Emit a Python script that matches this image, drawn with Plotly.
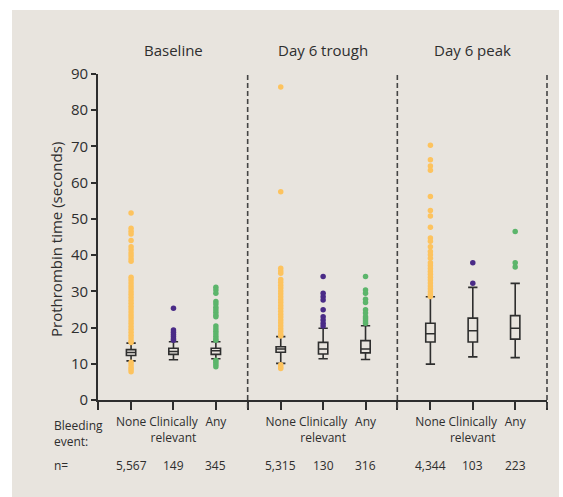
import plotly.graph_objects as go

# ---------------- data ----------------
groups = ["Baseline", "Day 6 trough", "Day 6 peak"]
categories = ["None", "Clinically<br>relevant", "Any"]
n_values = [["5,567", "149", "345"], ["5,315", "130", "316"], ["4,344", "103", "223"]]

# box statistics (seconds), per group -> per category
q1 = [[12.3, 12.6, 12.6], [13.2, 12.7, 13.0], [16.0, 16.0, 16.8]]
median = [[13.1, 13.4, 13.6], [14.1, 14.1, 14.1], [18.3, 19.1, 19.8]]
q3 = [[13.9, 14.3, 14.3], [14.7, 15.9, 16.4], [21.2, 22.6, 23.3]]
lowerfence = [[10.8, 11.1, 11.4], [10.1, 11.4, 11.2], [9.9, 11.9, 11.7]]
upperfence = [[15.7, 16.1, 16.1], [17.5, 19.8, 20.5], [28.5, 31.1, 32.2]]

# individual outlying observations
baseline_none_pts = [51.6, 47.4, 46.6, 45.8, 44.0, 42.3, 41.5, 40.6, 39.8, 39.0, 38.3,
                     33.9, 33.1, 32.3, 31.5, 30.7, 29.9, 29.1, 28.3, 27.5, 26.7, 25.9,
                     25.1, 24.3, 23.5, 22.7, 21.9, 21.1, 20.3, 19.5, 18.7, 17.9, 17.1,
                     16.3, 15.9, 10.4, 9.7, 9.0, 8.4, 7.8]
baseline_clin_pts = [25.3, 19.3, 18.7, 18.1, 17.5, 16.9, 16.5]
baseline_any_pts = [31.1, 30.4, 29.5, 27.2, 26.5, 25.6, 24.9, 24.2, 23.5, 23.0,
                    20.4, 19.7, 19.0, 18.3, 17.6, 16.9, 16.5, 11.0, 10.4, 9.8, 9.2]
trough_none_pts = [86.4, 57.5, 36.4, 35.6, 35.0, 33.3, 32.5, 31.7, 30.9, 30.1, 29.3,
                   28.5, 27.7, 26.9, 26.1, 25.3, 24.5, 23.7, 22.9, 22.1, 21.3, 20.5,
                   19.7, 18.9, 18.1, 17.7, 9.7, 9.2, 8.7]
trough_clin_pts = [34.1, 29.5, 28.5, 27.6, 24.9, 23.0, 22.1, 21.2, 20.4]
trough_any_pts = [34.1, 30.4, 29.5, 27.8, 26.9, 24.9, 24.0, 23.0, 22.4, 21.8, 21.2]
peak_none_pts = [70.3, 66.3, 64.6, 63.4, 56.2, 52.3, 50.8, 47.7, 44.7, 43.8, 42.3,
                 41.0, 40.1, 39.1, 37.9, 37.1, 36.3, 35.5, 34.7, 33.9, 33.1, 32.3,
                 31.5, 30.7, 29.9, 29.1, 28.6]
peak_clin_pts = [37.9, 32.2]
peak_any_pts = [46.5, 37.9, 36.7]

points = [[baseline_none_pts, baseline_clin_pts, baseline_any_pts],
          [trough_none_pts, trough_clin_pts, trough_any_pts],
          [peak_none_pts, peak_clin_pts, peak_any_pts]]

y_ticks = [0, 10, 20, 30, 40, 50, 60, 70, 80, 90]

# ---------------- styling ----------------
dot_colors = ["#fdc35e", "#4a2b87", "#5cb56b"]
ink = "#2e2e2e"
bg = "#e8e4de"
FONT = "Open Sans"

W, H = 563, 497
ML, MR, MT, MB = 98, 16, 74, 97
plot_w = W - ML - MR
plot_h = H - MT - MB

group_width = 3.53
first_offset = 0.78
x_max = group_width * len(groups)


def xpos(g, k):
    return g * group_width + first_offset + k


fig = go.Figure()

# dots
for g in range(len(groups)):
    for k in range(len(categories)):
        ys = points[g][k]
        fig.add_trace(go.Scatter(
            x=[xpos(g, k)] * len(ys), y=ys, mode="markers",
            marker=dict(color=dot_colors[k], size=5.5, line=dict(width=0)),
            showlegend=False, hoverinfo="y", cliponaxis=False))

# boxes
for g in range(len(groups)):
    for k in range(len(categories)):
        fig.add_trace(go.Box(
            x=[xpos(g, k)], q1=[q1[g][k]], median=[median[g][k]], q3=[q3[g][k]],
            lowerfence=[lowerfence[g][k]], upperfence=[upperfence[g][k]],
            width=0.22, whiskerwidth=1, boxpoints=False,
            line=dict(color=ink, width=1.6), fillcolor="rgba(0,0,0,0)",
            showlegend=False))

shapes = []
# background panel
shapes.append(dict(type="rect", xref="paper", yref="paper", layer="below",
                   x0=(12 - ML) / plot_w, x1=(559 - ML) / plot_w,
                   y0=-(MB + 5) / plot_h, y1=(plot_h + MT - 10) / plot_h,
                   fillcolor=bg, line=dict(width=0)))
# dashed separators
for g in range(len(groups)):
    xs = (g + 1) * group_width / x_max
    shapes.append(dict(type="line", xref="x domain", yref="paper",
                       x0=xs, x1=xs, y0=-8 / plot_h, y1=1.0,
                       line=dict(color="#444444", width=1.6, dash="5px,3px")))

annotations = []
for g, name in enumerate(groups):
    annotations.append(dict(x=xpos(g, 1), y=1 + 24 / plot_h,
                            xref="x", yref="paper", text=name, showarrow=False,
                            font=dict(family=FONT, size=15, color=ink),
                            yanchor="middle"))
    for k in range(len(categories)):
        annotations.append(dict(x=xpos(g, k), y=-65 / plot_h, xref="x", yref="paper",
                                text=n_values[g][k], showarrow=False,
                                font=dict(family=FONT, size=12, color=ink),
                                yanchor="middle"))

annotations.append(dict(x=(52 - ML) / plot_w, y=-15 / plot_h, xref="paper", yref="paper",
                        text="Bleeding<br>event:", showarrow=False, align="left",
                        xanchor="left", yanchor="top",
                        font=dict(family=FONT, size=12, color=ink)))
annotations.append(dict(x=(52 - ML) / plot_w, y=-65 / plot_h, xref="paper", yref="paper",
                        text="n=", showarrow=False, xanchor="left", yanchor="middle",
                        font=dict(family=FONT, size=12, color=ink)))
annotations.append(dict(x=(55.5 - ML) / plot_w, y=(400 - 239.5) / plot_h, xref="paper",
                        yref="paper", text="Prothrombin time (seconds)", textangle=-90,
                        showarrow=False, xanchor="center", yanchor="middle",
                        font=dict(family=FONT, size=15, color=ink)))

# x ticks: left edge, categories, separators
tickvals = [0]
ticktext = [""]
for g in range(len(groups)):
    for k in range(len(categories)):
        tickvals.append(xpos(g, k))
        ticktext.append(categories[k])
    tickvals.append((g + 1) * group_width)
    ticktext.append("")

fig.update_layout(
    width=W, height=H,
    margin=dict(l=ML, r=MR, t=MT, b=MB, pad=0),
    paper_bgcolor="white", plot_bgcolor="rgba(0,0,0,0)",
    shapes=shapes, annotations=annotations,
    xaxis=dict(range=[0, x_max], tickvals=tickvals, ticktext=ticktext,
               showgrid=False, zeroline=False, showline=True, linecolor=ink,
               linewidth=1.6, ticks="outside", ticklen=8, tickwidth=1.6, tickcolor=ink,
               ticklabelstandoff=2,
               tickfont=dict(family=FONT, size=12, color=ink)),
    yaxis=dict(range=[0, 90], tickvals=y_ticks, showgrid=False, zeroline=False,
               showline=True, linecolor=ink, linewidth=1.6, ticks="outside",
               ticklen=5, tickwidth=1.6, tickcolor=ink,
               tickfont=dict(family=FONT, size=15, color=ink)),
    showlegend=False,
)

fig.write_html("out.html", config={"displayModeBar": False},
               post_script="document.body.style.margin='0';document.body.style.overflow='hidden';")
